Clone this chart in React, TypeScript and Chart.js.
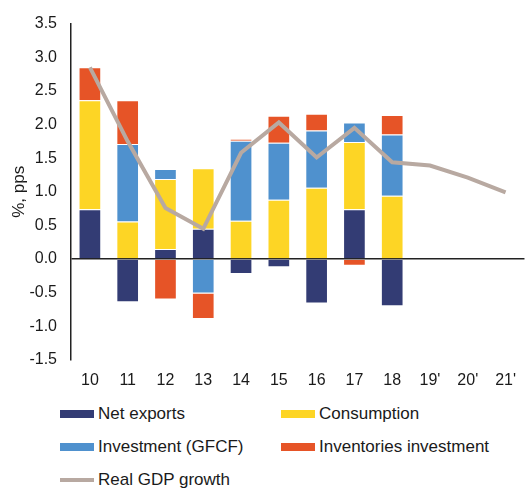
import React, { useEffect, useRef } from "react";
import { Chart, registerables } from "chart.js";

Chart.register(...registerables);

const categories = ["10", "11", "12", "13", "14", "15", "16", "17", "18", "19'", "20'", "21'"];
const netExports = [0.74, -0.64, 0.15, 0.45, -0.22, -0.12, -0.66, 0.74, -0.7, null, null, null];
const consumption = [1.62, 0.56, 1.04, 0.9, 0.57, 0.88, 1.06, 1.0, 0.94, null, null, null];
const investmentGFCF = [0, 1.15, 0.15, -0.51, 1.19, 0.85, 0.85, 0.29, 0.91, null, null, null];
const inventories = [0.49, 0.65, -0.6, -0.38, 0.03, 0.4, 0.25, -0.1, 0.29, null, null, null];
const gdpGrowth = [2.85, 1.75, 0.76, 0.45, 1.58, 2.03, 1.51, 1.95, 1.44, 1.39, 1.21, 0.99];

const yTicks = [-1.5, -1.0, -0.5, 0.0, 0.5, 1.0, 1.5, 2.0, 2.5, 3.0, 3.5];

const COLORS = {
  net: "#333C74",
  cons: "#FDD525",
  inv: "#4F91CE",
  invent: "#E65427",
  gdp: "#B8A9A1",
};

const FONT = "'Liberation Sans', Arial, sans-serif";

export default function App() {
  const ref = useRef<HTMLCanvasElement | null>(null);

  useEffect(() => {
    if (!ref.current) return;
    const bar = (label: string, data: (number | null)[], color: string) => ({
      type: "bar" as const,
      label,
      data,
      backgroundColor: color,
      borderColor: "rgba(255,255,255,0.35)",
      borderWidth: 1,
      stack: "s",
      order: 1,
      barPercentage: 0.6,
      categoryPercentage: 1,
    });
    const chart = new Chart(ref.current, {
      type: "bar",
      data: {
        labels: categories,
        datasets: [
          bar("Net exports", netExports, COLORS.net),
          bar("Consumption", consumption, COLORS.cons),
          bar("Investment (GFCF)", investmentGFCF, COLORS.inv),
          bar("Inventories investment", inventories, COLORS.invent),
          {
            type: "line" as const,
            label: "Real GDP growth",
            data: gdpGrowth,
            borderColor: COLORS.gdp,
            backgroundColor: COLORS.gdp,
            borderWidth: 4,
            pointRadius: 0,
            tension: 0,
            stack: "line",
            order: 0,
          } as any,
        ],
      },
      options: {
        animation: false,
        responsive: false,
        maintainAspectRatio: false,
        layout: { padding: { top: 13, right: 0, left: 0, bottom: 0 } },
        plugins: { legend: { display: false }, tooltip: { enabled: false } },
        scales: {
          x: {
            stacked: true,
            grid: { display: false, drawTicks: false },
            border: { display: false },
            ticks: {
              font: { family: FONT, size: 16 },
              color: "#1a1a1a",
              padding: 11,
              maxRotation: 0,
            },
            afterFit: (s: any) => {
              s.height = 35;
            },
          },
          y: {
            stacked: true,
            min: -1.5,
            max: 3.5,
            afterBuildTicks: (s: any) => {
              s.ticks = yTicks.map((v) => ({ value: v }));
            },
            ticks: {
              font: { family: FONT, size: 16 },
              color: "#1a1a1a",
              padding: 14,
              callback: (v: any) => Number(v).toFixed(1),
            },
            grid: {
              drawTicks: false,
              color: (ctx: any) => (ctx.tick && ctx.tick.value === 0 ? "#222" : "rgba(0,0,0,0)"),
              lineWidth: 1.5,
            },
            border: { display: true, color: "#222", width: 1.5 },
            title: {
              display: true,
              text: "%, pps",
              font: { family: FONT, size: 17 },
              color: "#1a1a1a",
              padding: { top: 9, bottom: 0 },
            },
            afterFit: (s: any) => {
              s.width = 71;
            },
          },
        },
      },
    });
    return () => chart.destroy();
  }, []);

  const legendItem = (label: string, color: string, left: number, top: number, thick: number) => (
    <div
      key={label}
      style={{ position: "absolute", left, top, display: "flex", alignItems: "center", height: 20 }}
    >
      <div style={{ width: 34, height: thick, background: color, marginRight: 4 }} />
      <span style={{ fontFamily: FONT, fontSize: 17, color: "#1a1a1a", whiteSpace: "nowrap" }}>{label}</span>
    </div>
  );

  return (
    <div style={{ position: "absolute", left: 0, top: 0, width: 527, height: 489, background: "#fff" }}>
      <canvas ref={ref} width={527} height={395} style={{ display: "block" }} />
      {legendItem("Net exports", COLORS.net, 60, 404, 8)}
      {legendItem("Consumption", COLORS.cons, 281, 404, 8)}
      {legendItem("Investment (GFCF)", COLORS.inv, 60, 437, 8)}
      {legendItem("Inventories investment", COLORS.invent, 281, 437, 8)}
      {legendItem("Real GDP growth", COLORS.gdp, 60, 470, 4)}
    </div>
  );
}
